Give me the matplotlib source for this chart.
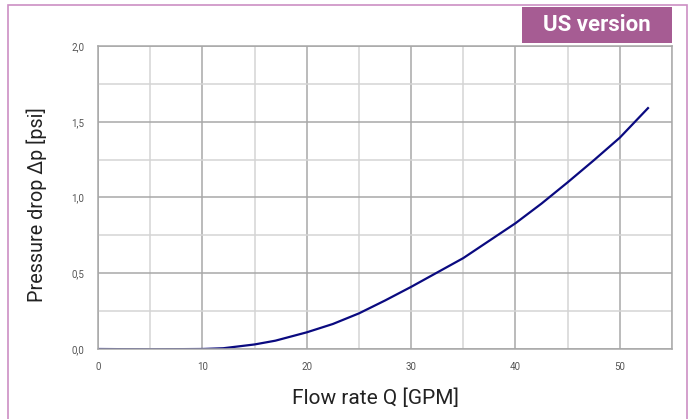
import matplotlib.pyplot as plt
from matplotlib.patches import Rectangle
from matplotlib.ticker import MultipleLocator, FuncFormatter

plt.rcParams['font.family'] = ['Roboto', 'DejaVu Sans']

flow_gpm = [0, 5, 10, 12, 15, 17, 20, 22.5, 25, 27.5, 30, 32.5, 35, 37.5, 40,
            42.5, 45, 47.5, 50, 52.7]
drop_psi = [0, -0.002, 0, 0.005, 0.03, 0.055, 0.11, 0.165, 0.235, 0.32, 0.41,
            0.505, 0.6, 0.715, 0.83, 0.96, 1.10, 1.245, 1.395, 1.59]

fig = plt.figure(figsize=(6.96, 4.19), dpi=100)

# pink frame round the whole chart
fig.patches.append(Rectangle((8 / 696, -0.05), (687 - 8) / 696, 1 - 5 / 419 + 0.05,
                             transform=fig.transFigure, fill=False,
                             edgecolor='#cc8fc4', linewidth=1.2))

ax = fig.add_axes([98 / 696, 1 - 349 / 419, (672 - 98) / 696, (349 - 46) / 419])
ax.plot(flow_gpm, drop_psi, color='#0a0a80', linewidth=1.6)

ax.set_xlim(0, 55)
ax.set_ylim(0, 2.0)
ax.xaxis.set_major_locator(MultipleLocator(10))
ax.xaxis.set_minor_locator(MultipleLocator(5))
ax.yaxis.set_major_locator(MultipleLocator(0.5))
ax.yaxis.set_minor_locator(MultipleLocator(0.25))
ax.yaxis.set_major_formatter(FuncFormatter(lambda v, p: f'{v:.1f}'.replace('.', ',')))
ax.grid(which='major', color='#a8a8a8', linewidth=1.1)
ax.grid(which='minor', color='#d4d4d4', linewidth=1.1)
ax.set_axisbelow(True)
ax.tick_params(which='both', length=0, labelsize=7, labelcolor='#555555')
ax.tick_params(axis='x', pad=9)
ax.tick_params(axis='y', pad=10)
for s in ax.spines.values():
    s.set_color('#a8a8a8')
    s.set_linewidth(1.1)

ax.set_xlabel('Flow rate Q [GPM]', fontsize=15, color='#222222')
ax.set_ylabel('Pressure drop Δp [psi]', fontsize=14.2, color='#222222')
ax.xaxis.set_label_coords(0.4826, -0.13)
ax.yaxis.set_label_coords(-0.088, 0.478)

# badge in the top right corner
fig.patches.append(Rectangle((522 / 696, 1 - 43 / 419), (672 - 522) / 696, 36 / 419,
                             transform=fig.transFigure, facecolor='#a65c93',
                             edgecolor='none'))
fig.text(597 / 696, 1 - 25 / 419, 'US version', color='white', fontsize=16,
         fontweight='bold', ha='center', va='center')

fig.savefig('out.png', dpi=100)
